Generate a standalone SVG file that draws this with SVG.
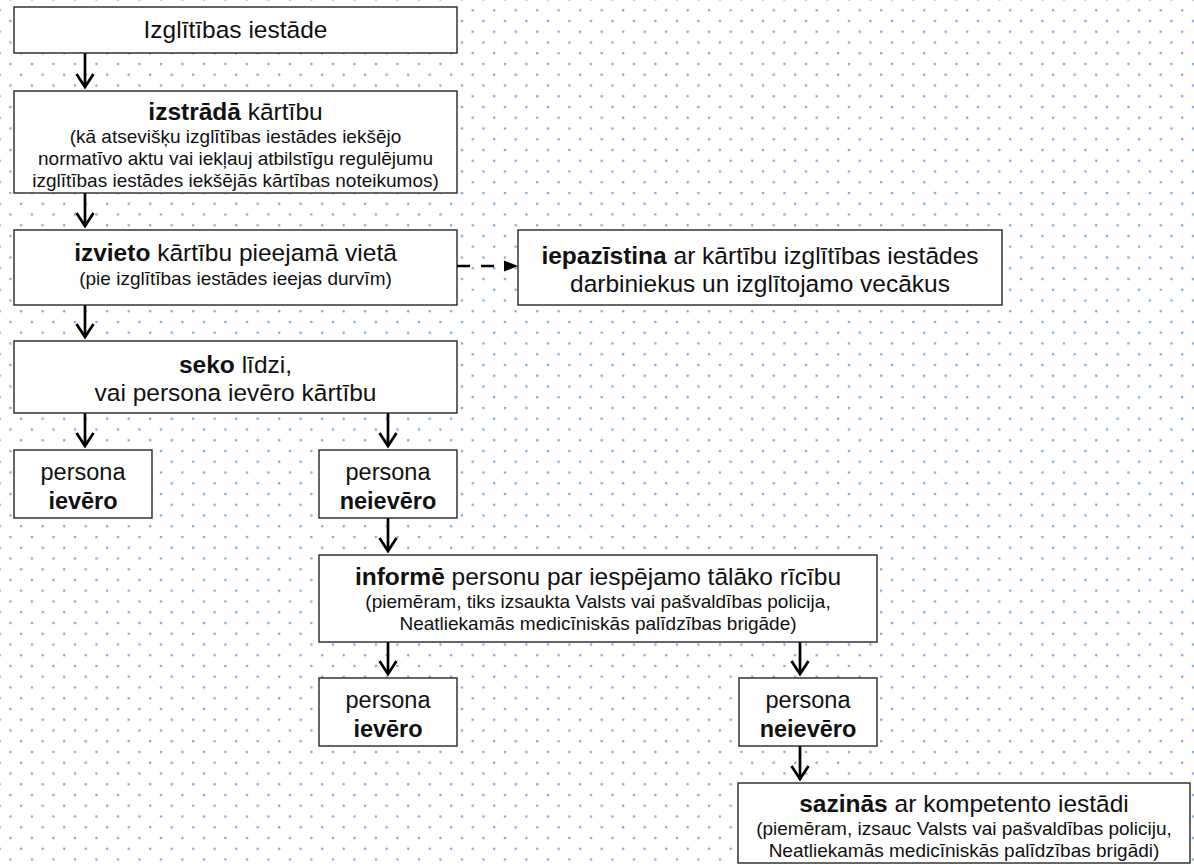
<svg xmlns="http://www.w3.org/2000/svg" width="1194" height="864" viewBox="0 0 1194 864">
<defs>
<pattern id="dots" width="21.5" height="21.5" patternUnits="userSpaceOnUse" x="5.45" y="-5.45">
<circle cx="5" cy="5" r="1.3" fill="#7ea8e2"/>
<circle cx="15.75" cy="15.75" r="1.3" fill="#7ea8e2"/>
</pattern>
<marker id="ah" markerUnits="userSpaceOnUse" markerWidth="30" markerHeight="30" viewBox="0 0 30 30" refX="15" refY="15" orient="auto" overflow="visible">
<path d="M2,6.5 L15,15 L2,23.5" fill="none" stroke="#000" stroke-width="2.7" stroke-linejoin="miter"/>
</marker>
<marker id="tri" markerUnits="userSpaceOnUse" markerWidth="20" markerHeight="20" viewBox="0 0 20 20" refX="14" refY="10" orient="auto" overflow="visible">
<path d="M0,4.5 L14,10 L0,15.5 Z" fill="#000"/>
</marker>
<style>
.box{fill:#fff;stroke:#262626;stroke-width:1.4}
.t{font-family:"Liberation Sans",Arial,sans-serif;fill:#111;text-anchor:middle}
.l{font-size:24.5px}
.p{font-size:23.5px}
.s{font-size:19px}
.b{font-weight:bold}
.c{fill:none;stroke:#000;stroke-width:2.7}
.d{stroke-dasharray:13 11}
</style>
</defs>
<rect x="0" y="0" width="1194" height="864" fill="#fff"/>
<rect x="0" y="0" width="1194" height="864" fill="url(#dots)"/>

<g id="connectors">
<path class="c" d="M85,53 V87" marker-end="url(#ah)"/>
<path class="c" d="M85,193 V226" marker-end="url(#ah)"/>
<path class="c" d="M85,305 V337" marker-end="url(#ah)"/>
<path class="c" d="M85,413 V446" marker-end="url(#ah)"/>
<path class="c" d="M388,413 V446" marker-end="url(#ah)"/>
<path class="c" d="M388,518 V551" marker-end="url(#ah)"/>
<path class="c" d="M388,642 V674" marker-end="url(#ah)"/>
<path class="c" d="M800,642 V674" marker-end="url(#ah)"/>
<path class="c" d="M800,746 V779" marker-end="url(#ah)"/>
<path class="c d" d="M457,266 H505"/>
<path d="M504,266 H518" fill="none" stroke="none" marker-end="url(#tri)"/>
</g>

<g id="n1">
<rect class="box" x="14" y="7" width="443" height="46"/>
<text class="t l" x="235.5" y="38">Izglītības iestāde</text>
</g>

<g id="n2">
<rect class="box" x="14" y="91" width="443" height="102"/>
<text class="t l" x="235.5" y="120"><tspan class="b">izstrādā</tspan> kārtību</text>
<text class="t s" x="235.5" y="143">(kā atsevišķu izglītības iestādes iekšējo</text>
<text class="t s" x="235.5" y="165">normatīvo aktu vai iekļauj atbilstīgu regulējumu</text>
<text class="t s" x="235.5" y="187">izglītības iestādes iekšējās kārtības noteikumos)</text>
</g>

<g id="n3">
<rect class="box" x="14" y="230" width="443" height="75"/>
<text class="t l" x="235.5" y="261"><tspan class="b">izvieto</tspan> kārtību pieejamā vietā</text>
<text class="t s" x="235.5" y="285">(pie izglītības iestādes ieejas durvīm)</text>
</g>

<g id="n4">
<rect class="box" x="518" y="230" width="484" height="75"/>
<text class="t l" x="760" y="264"><tspan class="b">iepazīstina</tspan> ar kārtību izglītības iestādes</text>
<text class="t l" x="760" y="292">darbiniekus un izglītojamo vecākus</text>
</g>

<g id="n5">
<rect class="box" x="14" y="341" width="443" height="72"/>
<text class="t l" x="235.5" y="373"><tspan class="b">seko</tspan> līdzi,</text>
<text class="t l" x="235.5" y="401">vai persona ievēro kārtību</text>
</g>

<g id="n6">
<rect class="box" x="14" y="450" width="138" height="68"/>
<text class="t p" x="83" y="480">persona</text>
<text class="t p b" x="83" y="509">ievēro</text>
</g>

<g id="n7">
<rect class="box" x="319" y="450" width="138" height="68"/>
<text class="t p" x="388" y="480">persona</text>
<text class="t p b" x="388" y="509">neievēro</text>
</g>

<g id="n8">
<rect class="box" x="319" y="555" width="558" height="87"/>
<text class="t l" x="598" y="585"><tspan class="b">informē</tspan> personu par iespējamo tālāko rīcību</text>
<text class="t s" x="598" y="608">(piemēram, tiks izsaukta Valsts vai pašvaldības policija,</text>
<text class="t s" x="598" y="630">Neatliekamās medicīniskās palīdzības brigāde)</text>
</g>

<g id="n9">
<rect class="box" x="319" y="678" width="138" height="68"/>
<text class="t p" x="388" y="708">persona</text>
<text class="t p b" x="388" y="737">ievēro</text>
</g>

<g id="n10">
<rect class="box" x="739" y="678" width="138" height="68"/>
<text class="t p" x="808" y="708">persona</text>
<text class="t p b" x="808" y="737">neievēro</text>
</g>

<g id="n11">
<rect class="box" x="738" y="783" width="452" height="80"/>
<text class="t l" x="964" y="812"><tspan class="b">sazinās</tspan> ar kompetento iestādi</text>
<text class="t s" x="964" y="835">(piemēram, izsauc Valsts vai pašvaldības policiju,</text>
<text class="t s" x="964" y="857">Neatliekamās medicīniskās palīdzības brigādi)</text>
</g>
</svg>
